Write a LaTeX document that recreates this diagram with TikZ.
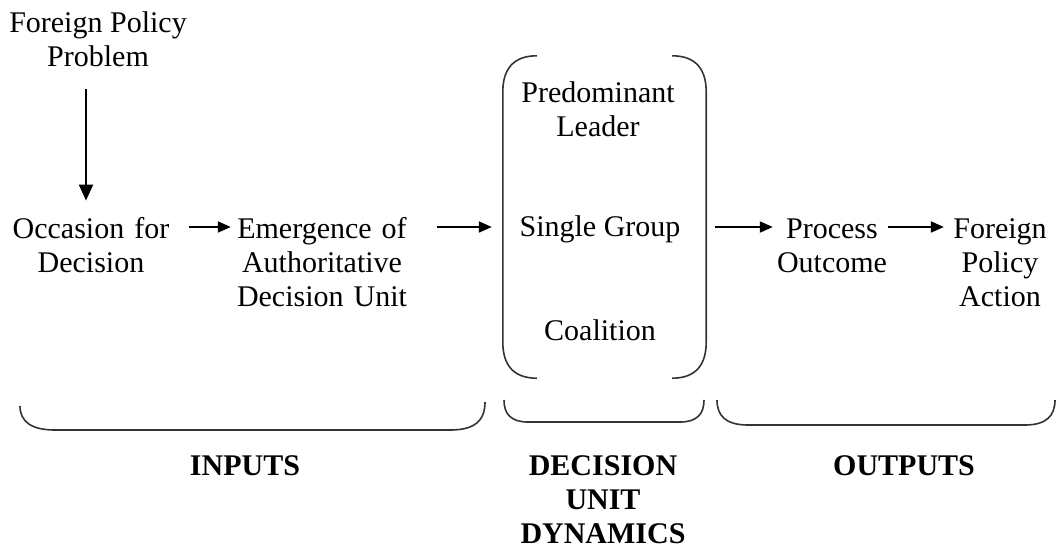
\documentclass[tikz,border=0pt]{standalone}
\usepackage{fontspec}
\setmainfont{Liberation Serif}
\usetikzlibrary{arrows.meta,calc}
\tikzset{
  txt/.style={inner sep=0pt, align=center, font=\fontsize{30}{34}\selectfont},
  lbl/.style={inner sep=0pt, align=center, font=\fontsize{30}{34}\selectfont\bfseries},
  arr/.style={line width=2pt, -{Triangle[length=13pt,width=11pt]}},
  varr/.style={line width=2pt, -{Triangle[length=16pt,width=14pt]}},
  brk/.style={line width=1.6pt, draw=black!80},
}
\begin{document}
\begin{tikzpicture}[x=1pt,y=-1pt]
\useasboundingbox (0,0) rectangle (1056,550);
\coordinate (row) at (0,227);
\coordinate (vx) at (86,0);
\node[txt] (fpp) at (98,39) {Foreign Policy\\Problem};
\node[txt, text width=160] (occ) at (91,245.5) {Occasion for\\Decision};
\node[txt, text width=176] (emg) at (322,262.5) {Emergence of\\Authoritative\\Decision Unit};
\node[inner sep=0pt, minimum width=203, minimum height=322] (box) at (604.5,217) {};
\node[txt] (pl) at (598,109) {Predominant\\Leader};
\node[txt] (sg) at (600,229) {Single Group};
\node[txt] (co) at (600,330) {Coalition};
\node[txt, text width=110] (proc) at (832,245.5) {Process\\Outcome};
\node[txt, text width=100] (act) at (1000,262.5) {Foreign\\Policy\\Action};
\node[lbl] (inp) at (245,466) {INPUTS};
\node[lbl] (dud) at (603,500) {DECISION\\UNIT\\DYNAMICS};
\node[lbl] (out) at (904,466) {OUTPUTS};
% arrows
\draw[varr, shorten <=22pt, shorten >=17pt] (fpp.south -| vx) -- (occ.north -| vx);
\draw[arr, shorten <=18pt, shorten >=3pt] (occ.east |- row) -- (emg.west |- row);
\draw[arr, shorten <=27pt, shorten >=11pt] (emg.east |- row) -- (box.west |- row);
\draw[arr, shorten <=9pt, shorten >=4pt] (box.east |- row) -- (proc.west |- row);
\draw[arr, shorten <=1pt, shorten >=6pt] (proc.east |- row) -- (act.west |- row);
% parentheses
\draw[brk] ($(box.north west)+(34,0)$) .. controls ($(box.north west)+(10,0)$) and ($(box.north west)+(0,14)$) .. ($(box.north west)+(0,36)$)
  -- ($(box.south west)+(0,-36)$) .. controls ($(box.south west)+(0,-14)$) and ($(box.south west)+(10,0)$) .. ($(box.south west)+(34,0)$);
\draw[brk] ($(box.north east)+(-34,0)$) .. controls ($(box.north east)+(-10,0)$) and ($(box.north east)+(0,14)$) .. ($(box.north east)+(0,36)$)
  -- ($(box.south east)+(0,-36)$) .. controls ($(box.south east)+(0,-14)$) and ($(box.south east)+(-10,0)$) .. ($(box.south east)+(-34,0)$);
% braces
\draw[brk] (20,406) .. controls (20,422) and (32,430) .. (55,430) -- (450,430) .. controls (473,430) and (485,422) .. (485,402);
\draw[brk] (504,400) .. controls (504,414) and (511,422) .. (528,422) -- (680,422) .. controls (697,422) and (704,414) .. (704,400);
\draw[brk] (717,400) .. controls (717,416) and (726,425) .. (748,425) -- (1025,425) .. controls (1046,425) and (1055,416) .. (1055,400);
\end{tikzpicture}
\end{document}
